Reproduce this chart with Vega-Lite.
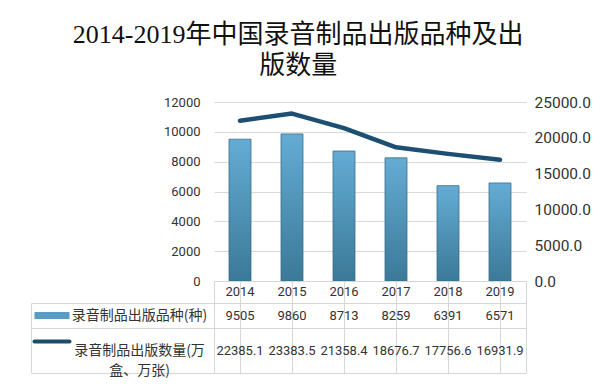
{
  "$schema": "https://vega.github.io/schema/vega-lite/v6.json",
  "padding": {"left": 30, "top": 22, "right": 0, "bottom": 0},
  "background": "white",
  "datasets": {
    "series": [
      {"year": 2014, "count": 9505, "qty": 22385.1},
      {"year": 2015, "count": 9860, "qty": 23383.5},
      {"year": 2016, "count": 8713, "qty": 21358.4},
      {"year": 2017, "count": 8259, "qty": 18676.7},
      {"year": 2018, "count": 6391, "qty": 17756.6},
      {"year": 2019, "count": 6571, "qty": 16931.9}
    ]
  },
  "title": {
    "text": ["2014-2019年中国录音制品出版品种及出", "版数量"],
    "font": "Liberation Serif, Noto Sans CJK SC",
    "fontSize": 26,
    "fontWeight": "normal",
    "lineHeight": 31,
    "color": "#111111",
    "anchor": "middle",
    "frame": "bounds",
    "offset": 16,
    "dx": -12
  },
  "columns": 2,
  "spacing": 0,
  "bounds": "flush",
  "align": "each",
  "concat": [
    {
      "width": 183, "height": 179,
      "view": {"stroke": null},
      "data": {"values": [{}]},
      "mark": {"type": "point", "opacity": 0}
    },
    {
      "width": 312, "height": 179,
      "view": {"stroke": null},
      "data": {"name": "series"},
      "encoding": {
        "x": {"field": "year", "type": "ordinal", "axis": null,
              "scale": {"paddingInner": 0.577, "paddingOuter": 0.2885}}
      },
      "layer": [
        {
          "mark": {
            "type": "bar",
            "color": {"gradient": "linear", "x1": 0, "y1": 0, "x2": 0, "y2": 1,
                      "stops": [{"offset": 0, "color": "#64acd5"}, {"offset": 1, "color": "#3b7997"}]},
            "stroke": "#3a6c88",
            "strokeWidth": 0.8
          },
          "encoding": {
            "y": {"field": "count", "type": "quantitative",
                  "scale": {"domain": [0, 12000]},
                  "axis": {"values": [0, 2000, 4000, 6000, 8000, 10000, 12000], "format": "d",
                           "grid": true, "gridColor": "#d9d9d9", "domain": false, "ticks": false,
                           "labelPadding": 14, "labelFont": "Roboto", "labelFontSize": 13,
                           "labelColor": "#333333", "title": null}}
          }
        },
        {
          "mark": {"type": "line", "color": "#1c4f71", "strokeWidth": 4.5, "strokeCap": "round", "strokeJoin": "round"},
          "encoding": {
            "y": {"field": "qty", "type": "quantitative",
                  "scale": {"domain": [0, 25000]},
                  "axis": {"orient": "right", "values": [0, 5000, 10000, 15000, 20000, 25000],
                           "format": ".1f", "grid": false, "domain": false, "ticks": false,
                           "labelPadding": 8, "labelFont": "Roboto", "labelFontSize": 15.5,
                           "labelColor": "#333333", "title": null}}
          }
        }
      ],
      "resolve": {"scale": {"y": "independent"}}
    },
    {
      "width": 183, "height": 22,
      "view": {"stroke": null},
      "data": {"values": [{}]},
      "mark": {"type": "point", "opacity": 0}
    },
    {
      "width": 312, "height": 22,
      "data": {"name": "series"},
      "mark": {"type": "text", "font": "Roboto", "fontSize": 13, "color": "#333333"},
      "encoding": {
        "x": {"field": "year", "type": "ordinal",
              "scale": {"paddingInner": 0, "paddingOuter": 0},
              "axis": {"labels": false, "ticks": false, "domain": false, "grid": true,
                       "bandPosition": 0, "gridColor": "#d6d6d6", "title": null}},
        "text": {"field": "year", "type": "ordinal"}
      }
    },
    {
      "width": 183, "height": 25,
      "data": {"values": [{"row": "录音制品出版品种(种)"}]},
      "mark": {"type": "point", "opacity": 0},
      "encoding": {
        "y": {"field": "row", "type": "nominal",
              "scale": {"paddingInner": 0, "paddingOuter": 0},
              "axis": {"title": null, "domain": false, "grid": false, "offset": -38,
                       "tickSize": 35, "tickWidth": 7, "tickColor": "#5b9cc4", "tickCap": "butt",
                       "tickOffset": -1, "labelOffset": 1,
                       "labelPadding": -105, "labelAlign": "center", "labelBaseline": "middle",
                       "labelFont": "Noto Sans CJK SC", "labelFontSize": 14, "labelColor": "#333333",
                       "labelLimit": 300, "zindex": 1}}
      }
    },
    {
      "width": 312, "height": 25,
      "data": {"name": "series"},
      "mark": {"type": "text", "font": "Roboto", "fontSize": 13, "color": "#333333"},
      "encoding": {
        "x": {"field": "year", "type": "ordinal",
              "scale": {"paddingInner": 0, "paddingOuter": 0},
              "axis": {"labels": false, "ticks": false, "domain": false, "grid": true,
                       "bandPosition": 0, "gridColor": "#d6d6d6", "title": null}},
        "text": {"field": "count", "type": "quantitative", "format": "d"}
      }
    },
    {
      "width": 183, "height": 45,
      "data": {"values": [{"row": "录音制品出版数量(万盒、万张)"}]},
      "mark": {"type": "point", "opacity": 0},
      "encoding": {
        "y": {"field": "row", "type": "nominal",
              "scale": {"paddingInner": 0, "paddingOuter": 0},
              "axis": {"title": null, "domain": false, "grid": false, "offset": -38,
                       "tickSize": 35, "tickWidth": 4, "tickColor": "#1d4c6b", "tickCap": "round",
                       "tickOffset": -10, "labelOffset": 10,
                       "labelExpr": "[slice(datum.label, 0, 10), slice(datum.label, 10)]",
                       "labelLineHeight": 20,
                       "labelPadding": -105, "labelAlign": "center", "labelBaseline": "middle",
                       "labelFont": "Noto Sans CJK SC", "labelFontSize": 14, "labelColor": "#333333",
                       "labelLimit": 300, "zindex": 1}}
      }
    },
    {
      "width": 312, "height": 45,
      "data": {"name": "series"},
      "mark": {"type": "text", "font": "Roboto", "fontSize": 13, "color": "#333333"},
      "encoding": {
        "x": {"field": "year", "type": "ordinal",
              "scale": {"paddingInner": 0, "paddingOuter": 0},
              "axis": {"labels": false, "ticks": false, "domain": false, "grid": true,
                       "bandPosition": 0, "gridColor": "#d6d6d6", "title": null}},
        "text": {"field": "qty", "type": "quantitative", "format": ".1f"}
      }
    }
  ],
  "config": {
    "view": {"stroke": "#d6d6d6"},
    "font": "Roboto"
  }
}
